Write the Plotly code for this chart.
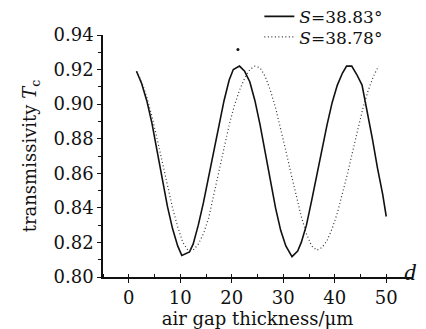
import plotly.graph_objects as go

# S = 38.83 deg (solid)
d_solid = [1.5, 2.5, 3.5, 4.5, 5.5, 6.5, 7.5, 8.5, 9.5, 10.3, 11.8, 12.5, 13.5, 14.5, 15.5,
           16.5, 17.5, 18.5, 19.5, 20.3, 21.5, 22.5, 23.5, 24.5, 25.5, 26.5, 27.5, 28.5,
           29.5, 30.5, 31.7, 32.8, 33.5, 34.5, 35.5, 36.5, 37.5, 38.5, 39.5, 40.5, 41.5,
           42.3, 43.3, 44.3, 45.3, 46.3, 47.3, 48.3, 49.3, 50.0]
t_solid = [0.919, 0.912, 0.902, 0.889, 0.873, 0.857, 0.841, 0.828, 0.818, 0.8125, 0.8145,
           0.819, 0.830, 0.843, 0.858, 0.874, 0.889, 0.902, 0.914, 0.920, 0.922, 0.919,
           0.913, 0.902, 0.888, 0.872, 0.856, 0.840, 0.827, 0.818, 0.8118, 0.815, 0.820,
           0.830, 0.844, 0.859, 0.874, 0.888, 0.901, 0.911, 0.918, 0.922, 0.922, 0.917,
           0.911, 0.896, 0.880, 0.863, 0.848, 0.835]

# S = 38.78 deg (dotted)
d_dot = [1.5, 2.5, 3.5, 4.5, 5.5, 6.5, 7.5, 8.5, 9.5, 10.5, 11.5, 12.5, 13.5, 14.5, 15.5,
         16.5, 17.5, 18.5, 19.5, 20.5, 21.5, 22.5, 23.5, 24.5, 25.5, 26.5, 27.5, 28.5,
         29.5, 30.5, 31.5, 32.5, 33.5, 34.5, 35.5, 36.5, 37.5, 38.5, 39.5, 40.5, 41.5,
         42.5, 43.5, 44.5, 45.5, 46.5, 47.5, 48.5]
t_dot = [0.919, 0.913, 0.904, 0.893, 0.880, 0.867, 0.853, 0.840, 0.829, 0.820, 0.8155,
         0.8155, 0.819, 0.825, 0.834, 0.848, 0.862, 0.876, 0.888, 0.899, 0.908, 0.915,
         0.920, 0.922, 0.921, 0.916, 0.908, 0.898, 0.886, 0.873, 0.860, 0.847, 0.835,
         0.825, 0.818, 0.8155, 0.817, 0.821, 0.828, 0.837, 0.848, 0.860, 0.873, 0.886,
         0.898, 0.908, 0.916, 0.922]

# stray mark in the figure
d_mark = [21.2]
t_mark = [0.9316]

x_ticks = [0, 10, 20, 30, 40, 50]
y_ticks = [0.80, 0.82, 0.84, 0.86, 0.88, 0.90, 0.92, 0.94]
y_tick_text = ["0.80", "0.82", "0.84", "0.86", "0.88", "0.90", "0.92", "0.94"]

FONT = "DejaVu Serif"

fig = go.Figure()
fig.add_trace(go.Scatter(x=d_solid, y=t_solid, mode="lines", name="<i>S</i>=38.83°",
                         line=dict(color="#111", width=1.6), legend="legend"))
fig.add_trace(go.Scatter(x=d_dot, y=t_dot, mode="lines", name="<i>S</i>=38.78°",
                         line=dict(color="#333", width=1.2, dash="1px,2.5px"),
                         legend="legend2"))
fig.add_trace(go.Scatter(x=d_mark, y=t_mark, mode="markers", showlegend=False,
                         marker=dict(color="#111", size=3)))

fig.update_layout(
    width=426, height=329,
    margin=dict(l=95, r=22, t=27, b=60, autoexpand=False),
    paper_bgcolor="white", plot_bgcolor="white",
    font=dict(family=FONT, size=18, color="#111"),
    xaxis=dict(range=[-5, 55], tickvals=x_ticks, showgrid=False, zeroline=False,
               showline=True, linecolor="#111", linewidth=1.5,
               ticks="outside", ticklen=4, tickwidth=1.2, tickcolor="#111",
               minor=dict(dtick=5, ticks="inside", ticklen=3, tickcolor="#111"),
               title=dict(text="air gap thickness/μm", font=dict(size=18), standoff=2)),
    yaxis=dict(range=[0.80, 0.94], tickvals=y_ticks, ticktext=y_tick_text, showgrid=False,
               zeroline=False, showline=True, linecolor="#111", linewidth=1.5,
               ticks="outside", ticklen=4, tickwidth=1.2, tickcolor="#111",
               minor=dict(dtick=0.01, ticks="outside", ticklen=3, tickcolor="#111"),
               title=dict(text="transmissivity <i>T</i><sub>c</sub>", font=dict(size=18),
                          standoff=12)),
    legend=dict(x=0.506, y=1.075, xanchor="left", yanchor="middle", bgcolor="rgba(0,0,0,0)",
                font=dict(size=17), itemwidth=30, tracegroupgap=0),
    legend2=dict(x=0.506, y=0.99, xanchor="left", yanchor="middle", bgcolor="rgba(0,0,0,0)",
                 font=dict(size=17), itemwidth=30, tracegroupgap=0),
    annotations=[dict(text="d", x=55, y=0.80, xref="x", yref="y",
                      xanchor="left", yanchor="middle", showarrow=False, xshift=-10,
                      yshift=5, font=dict(size=24, family="Liberation Serif", style="italic"))],
    showlegend=True,
)

fig.write_html("out.html")
